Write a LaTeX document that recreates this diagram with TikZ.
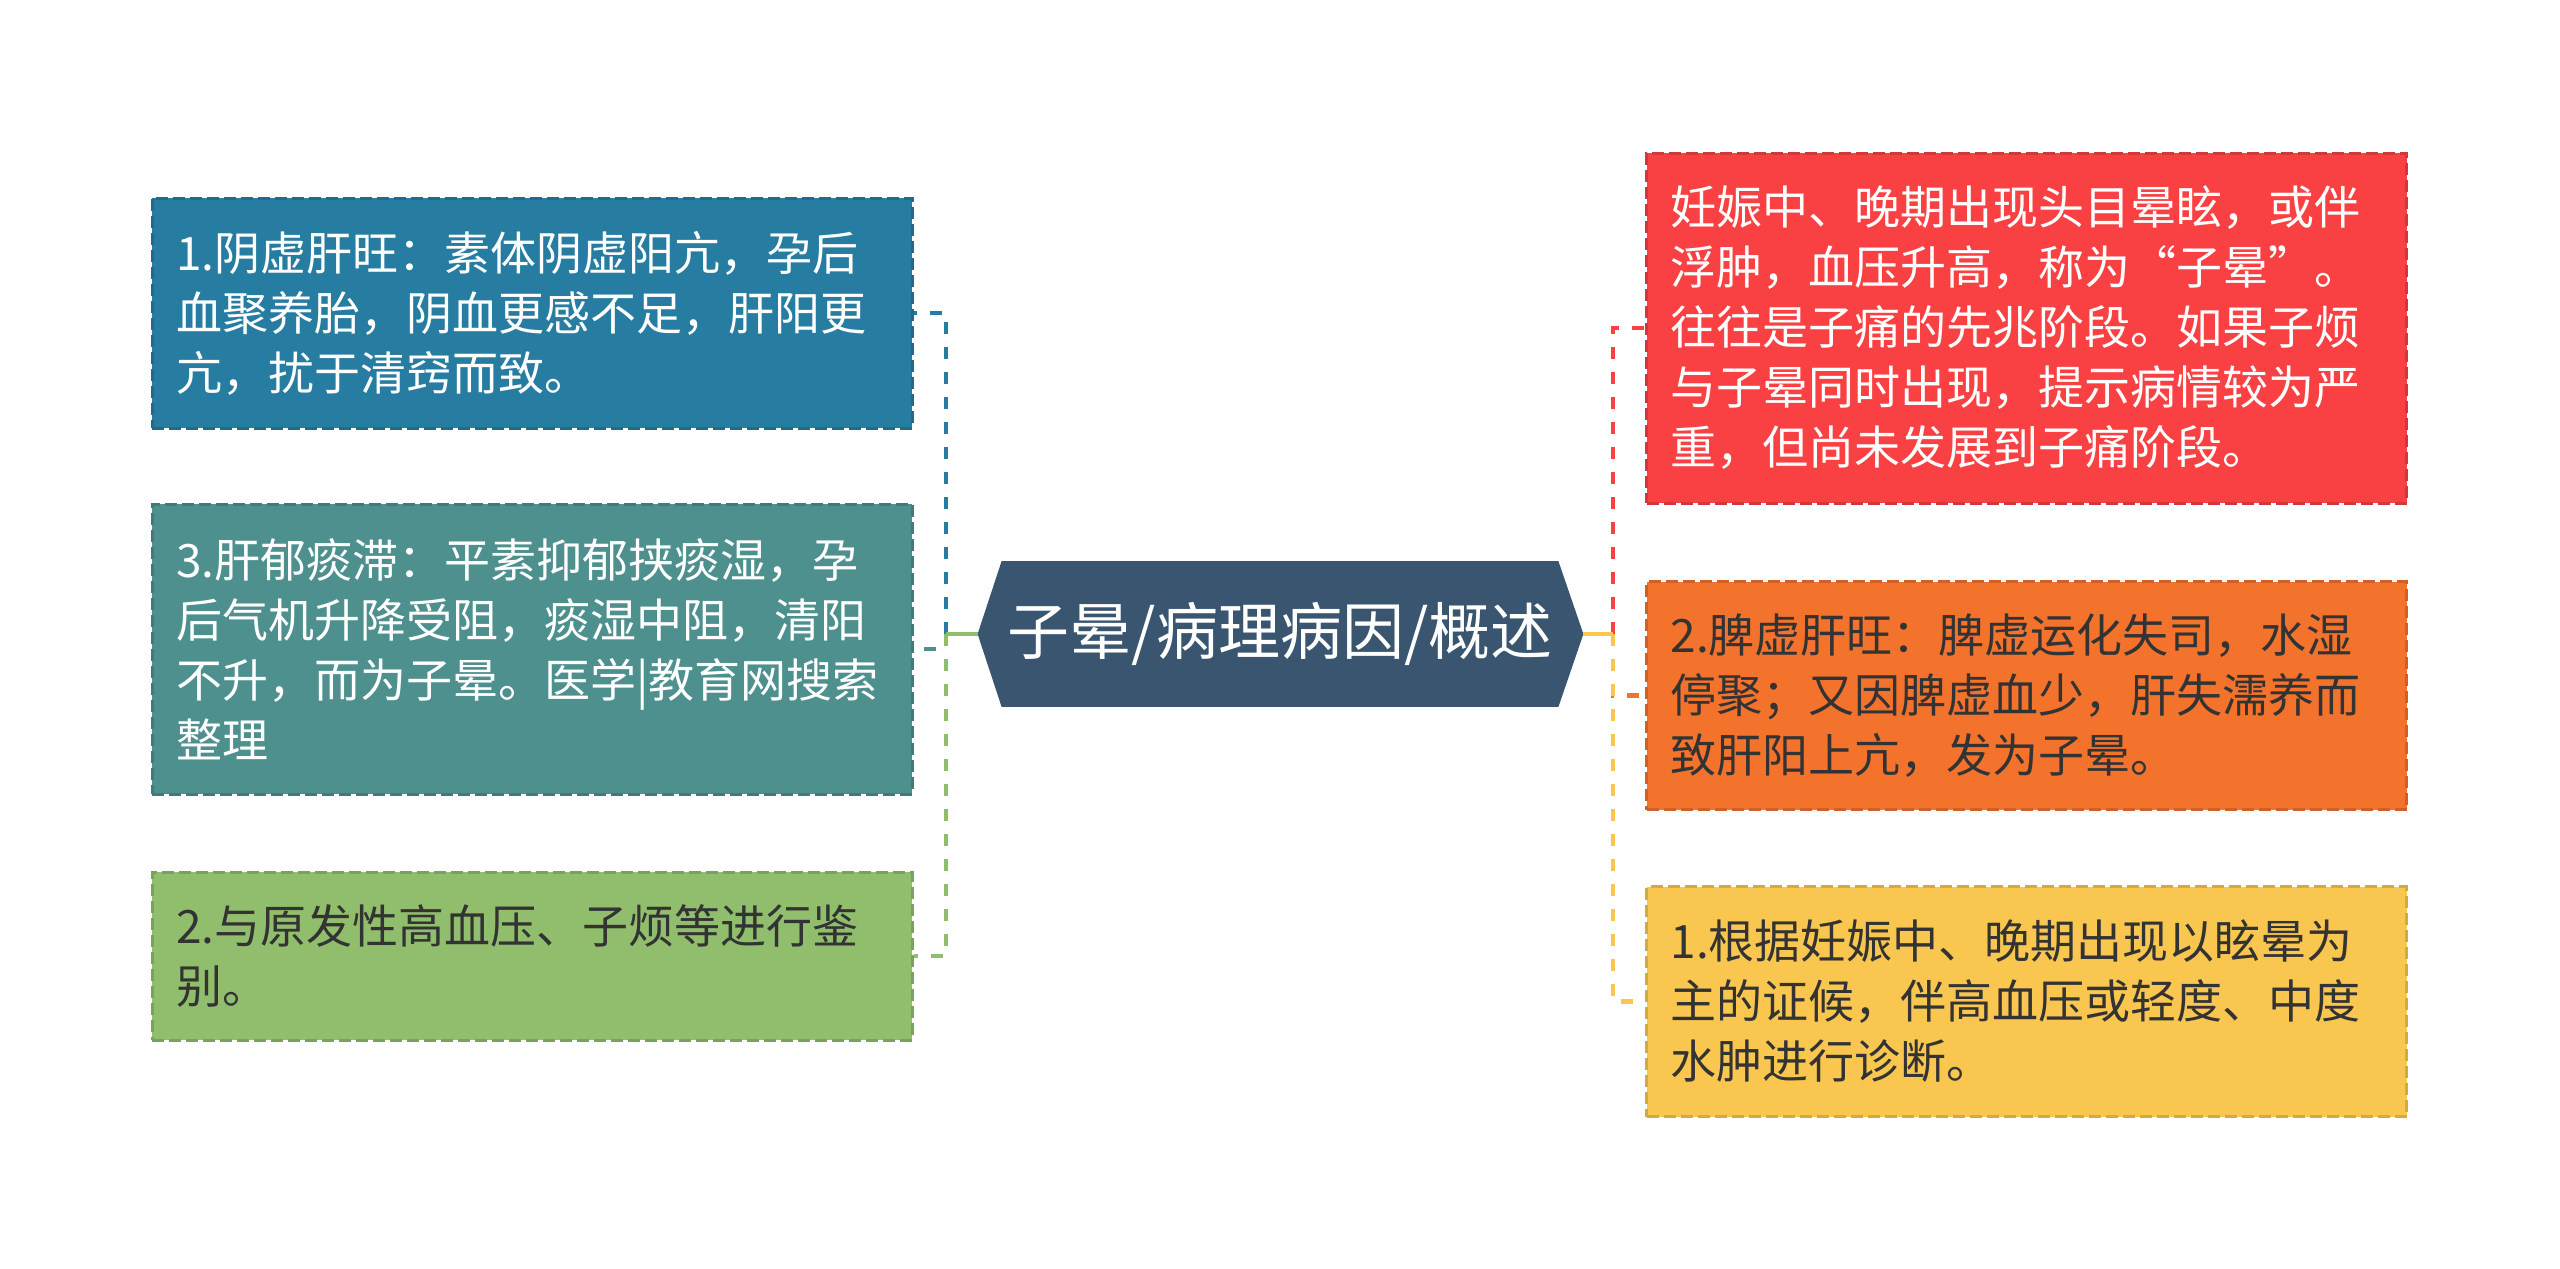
\documentclass[tikz,border=0pt]{standalone}
\usepackage{fontspec}
\setmainfont{Noto Sans CJK SC}
\usetikzlibrary{backgrounds}
\definecolor{cblue}{HTML}{277DA1}
\definecolor{cteal}{HTML}{4D908E}
\definecolor{cgreen}{HTML}{90BE6D}
\definecolor{cred}{HTML}{F94144}
\definecolor{corange}{HTML}{F3722C}
\definecolor{cyellow}{HTML}{F9C74F}
\definecolor{croot}{HTML}{3A5570}
\definecolor{cdark}{HTML}{333333}
\begin{document}
\begin{tikzpicture}[x=0.5pt,y=-0.5pt,
  box/.style={rectangle, minimum width=380pt, text width=356pt, inner xsep=12pt, inner ysep=0pt,
    align=left, font=\fontsize{23}{30}\selectfont, line width=1.5pt, dash pattern=on 6pt off 2.5pt},
  bluebox/.style={box, fill=cblue, draw=cblue!85!black, text=white},
  tealbox/.style={box, fill=cteal, draw=cteal!85!black, text=white},
  greenbox/.style={box, fill=cgreen, draw=cgreen!85!black, text=cdark},
  redbox/.style={box, fill=cred, draw=cred!85!black, text=white},
  orangebox/.style={box, fill=corange, draw=corange!85!black, text=cdark},
  yellowbox/.style={box, fill=cyellow, draw=cyellow!85!black, text=cdark},
  rootnode/.style={rectangle, minimum width=278pt, minimum height=72.5pt, inner sep=0pt,
    text=white, font=\fontsize{31}{36}\selectfont},
  conn/.style={line width=2.4pt, dash pattern=on 6pt off 6.5pt},
  stub/.style={line width=2.4pt}
]
\useasboundingbox (0,0) rectangle (2560,1269);

% left boxes
\node[bluebox, minimum height=115pt] (b1) at (532,313) {1.阴虚肝旺：素体阴虚阳亢，孕后\\血聚养胎，阴血更感不足，肝阳更\\亢，扰于清窍而致。};
\node[tealbox, minimum height=145pt] (b3) at (532,649) {3.肝郁痰滞：平素抑郁挟痰湿，孕\\后气机升降受阻，痰湿中阻，清阳\\不升，而为子晕。医学|教育网搜索\\整理};
\node[greenbox, minimum height=84pt] (b2) at (532,956) {2.与原发性高血压、子烦等进行鉴\\别。};

% right boxes
\node[redbox, minimum height=175pt] (r1) at (2026.5,328) {妊娠中、晚期出现头目晕眩，或伴\\浮肿，血压升高，称为“子晕”。\\往往是子痛的先兆阶段。如果子烦\\与子晕同时出现，提示病情较为严\\重，但尚未发展到子痛阶段。};
\node[orangebox, minimum height=114pt] (r2) at (2026.5,695.5) {2.脾虚肝旺：脾虚运化失司，水湿\\停聚；又因脾虚血少，肝失濡养而\\致肝阳上亢，发为子晕。};
\node[yellowbox, minimum height=115pt] (r3) at (2026.5,1001.5) {1.根据妊娠中、晚期出现以眩晕为\\主的证候，伴高血压或轻度、中度\\水肿进行诊断。};

% root
\node[rootnode] (root) at (1280,634) {子晕/病理病因/概述};
\coordinate (rootL) at ([xshift=-12pt]root.west);
\coordinate (rootR) at ([xshift=12.5pt]root.east);
\begin{scope}[on background layer]
\fill[white] (0,0) rectangle (2560,1269);
\fill[croot] (root.north west) -- (root.north east) -- (rootR) -- (root.south east)
  -- (root.south west) -- (rootL) -- cycle;
\end{scope}

% junctions
\coordinate (jl) at (946,634);
\coordinate (jr) at (1613,634);

% left connectors
\draw[conn, cblue] (jl) |- (b1.east);
\draw[conn, cteal] (jl) |- (b3.east);
\draw[conn, cgreen] (jl) |- (b2.east);
\draw[stub, cgreen] (rootL) -- (jl);

% right connectors
\draw[conn, cred] (jr) |- (r1.west);
\draw[conn, corange] (jr) |- (r2.west);
\draw[conn, cyellow] (jr) |- (r3.west);
\draw[stub, cyellow] (rootR) -- (jr);
\end{tikzpicture}
\end{document}
